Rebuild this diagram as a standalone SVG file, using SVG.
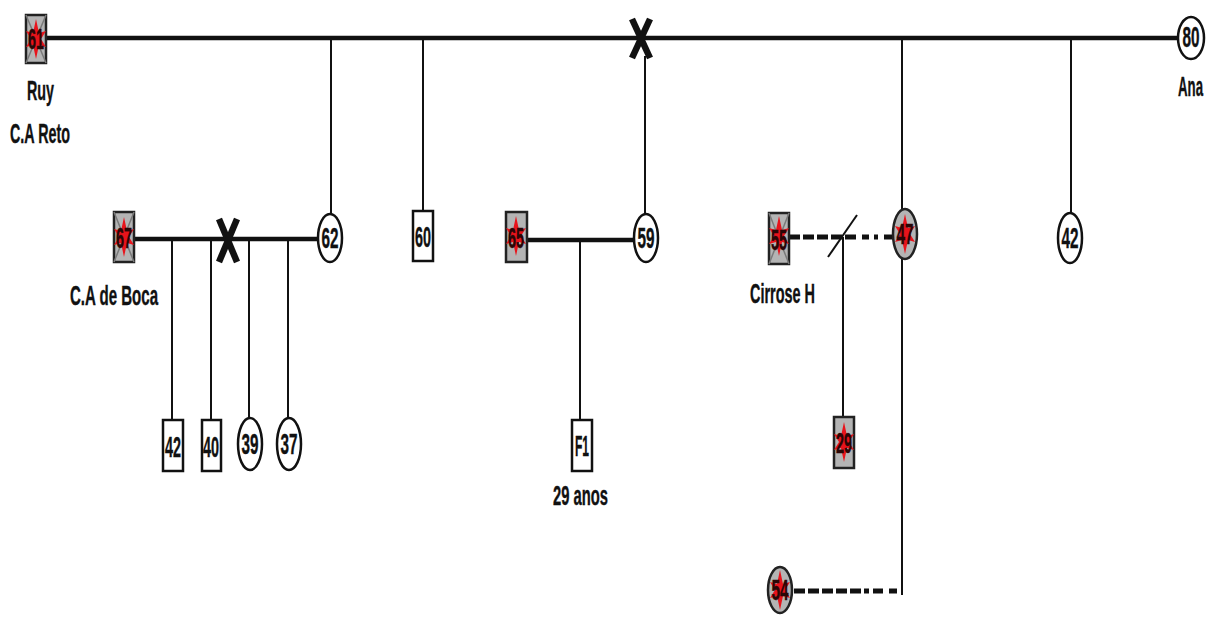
<svg xmlns="http://www.w3.org/2000/svg" width="1212" height="623" viewBox="0 0 1212 623">
<style>
.bg{fill:#fff}
.m{stroke:#111;stroke-width:4.5;fill:none}
.v{stroke:#111;stroke-width:2;fill:none}
.x{stroke:#111;stroke-width:6.5;fill:none;stroke-linecap:butt}
.d{stroke:#111;stroke-width:5;fill:none}
.n{fill:#fff;stroke:#111;stroke-width:2.5}
.a{fill:#b4b4b4;stroke:#222;stroke-width:2.5}
.st{fill:#e8131b}
.g{stroke:#7a7a7a;stroke-width:1.5}
.t{font-family:"Liberation Sans Narrow","Arial Narrow","Liberation Sans",Arial,sans-serif;font-weight:bold;font-size:29px;fill:#111;stroke:#111;stroke-width:0.4;text-anchor:middle}
.ta{fill:#2a0606;stroke:#2a0606}
.l{font-family:"Liberation Sans Narrow","Arial Narrow","Liberation Sans",Arial,sans-serif;font-weight:bold;font-size:28px;fill:#111;stroke:#111;stroke-width:0.4}
</style>
<defs>
<path id="star" d="M0,-20 L3,-6 L10,-8 L5,0 L10,8 L3,6 L0,20 L-3,6 L-10,8 L-5,0 L-10,-8 L-3,-6 Z"/>
</defs>
<rect class="bg" width="1212" height="623"/>
<g id="connectors">
<line class="m" x1="46" y1="38" x2="1179" y2="38"/>
<line class="v" x1="331" y1="38" x2="331" y2="214"/>
<line class="v" x1="423" y1="38" x2="423" y2="211"/>
<line class="v" x1="645" y1="56" x2="645" y2="213"/>
<line class="v" x1="902" y1="38" x2="902" y2="595"/>
<line class="v" x1="1071" y1="38" x2="1071" y2="213"/>
<line class="x" x1="632" y1="19" x2="650" y2="58"/>
<line class="x" x1="650" y1="19" x2="632" y2="58"/>
<line class="m" x1="134" y1="239" x2="319" y2="239"/>
<line class="x" x1="219" y1="219" x2="237" y2="262"/>
<line class="x" x1="237" y1="219" x2="219" y2="262"/>
<line class="v" x1="172" y1="239" x2="172" y2="420"/>
<line class="v" x1="211" y1="239" x2="211" y2="420"/>
<line class="v" x1="249" y1="239" x2="249" y2="419"/>
<line class="v" x1="288" y1="239" x2="288" y2="419"/>
<line class="m" x1="527" y1="240" x2="635" y2="240"/>
<line class="v" x1="580" y1="240" x2="580" y2="420"/>
<line class="d" x1="789" y1="237" x2="858" y2="237" stroke-dasharray="11 3"/>
<line class="d" x1="862" y1="237" x2="878" y2="237" stroke-dasharray="7 5"/>
<line class="d" x1="884" y1="237" x2="892" y2="237"/>
<line class="v" x1="828" y1="257" x2="857" y2="215"/>
<line class="v" x1="843" y1="237" x2="843" y2="416"/>
<line class="d" x1="794" y1="591" x2="869" y2="591" stroke-dasharray="11 3"/>
<line class="d" x1="873" y1="591" x2="883" y2="591"/>
<line class="d" x1="889" y1="591" x2="897" y2="591"/>
</g>
<g id="n61">
<rect class="a" x="26" y="15" width="20" height="48"/>
<line class="g" x1="26" y1="15" x2="46" y2="63"/><line class="g" x1="46" y1="15" x2="26" y2="63"/>
<use href="#star" class="st" x="36" y="39"/>
<text class="t ta" x="36" y="49" textLength="16" lengthAdjust="spacingAndGlyphs">61</text>
<text class="l" x="27" y="100" textLength="27" lengthAdjust="spacingAndGlyphs">Ruy</text>
<text class="l" x="10" y="143" textLength="60" lengthAdjust="spacingAndGlyphs">C.A Reto</text>
</g>
<g id="n80">
<ellipse class="n" cx="1191" cy="38" rx="13" ry="21"/>
<text class="t" x="1191" y="47" font-size="26" textLength="17" lengthAdjust="spacingAndGlyphs">80</text>
<text class="l" x="1203" y="96" text-anchor="end" textLength="25" lengthAdjust="spacingAndGlyphs">Ana</text>
</g>
<g id="n67">
<rect class="a" x="114" y="212" width="20" height="50"/>
<line class="g" x1="114" y1="212" x2="134" y2="262"/><line class="g" x1="134" y1="212" x2="114" y2="262"/>
<use href="#star" class="st" x="124" y="237"/>
<text class="t ta" x="124" y="248" textLength="16" lengthAdjust="spacingAndGlyphs">67</text>
<text class="l" x="70" y="305" textLength="88" lengthAdjust="spacingAndGlyphs">C.A de Boca</text>
</g>
<g id="n62">
<ellipse class="n" cx="330" cy="238" rx="12" ry="24"/>
<text class="t" x="330" y="248" textLength="17" lengthAdjust="spacingAndGlyphs">62</text>
</g>
<g id="n60">
<rect class="n" x="413" y="211" width="20" height="50"/>
<text class="t" x="423" y="247" textLength="16" lengthAdjust="spacingAndGlyphs">60</text>
</g>
<g id="n65">
<rect class="a" x="506" y="212" width="21" height="50"/>
<use href="#star" class="st" x="516" y="236"/>
<text class="t ta" x="516" y="248" textLength="16" lengthAdjust="spacingAndGlyphs">65</text>
</g>
<g id="n59">
<ellipse class="n" cx="646" cy="238" rx="12" ry="24"/>
<text class="t" x="646" y="248" textLength="17" lengthAdjust="spacingAndGlyphs">59</text>
</g>
<g id="n55">
<rect class="a" x="769" y="213" width="20" height="51"/>
<line class="g" x1="769" y1="213" x2="789" y2="264"/><line class="g" x1="789" y1="213" x2="769" y2="264"/>
<use href="#star" class="st" x="779" y="236"/>
<text class="t ta" x="779" y="250" textLength="16" lengthAdjust="spacingAndGlyphs">55</text>
<text class="l" x="750" y="303" textLength="65" lengthAdjust="spacingAndGlyphs">Cirrose H</text>
</g>
<g id="n47">
<ellipse class="a" cx="905" cy="234" rx="12" ry="25"/>
<use href="#star" class="st" x="905" y="234"/>
<text class="t ta" x="905" y="244" textLength="17" lengthAdjust="spacingAndGlyphs">47</text>
</g>
<g id="n42r">
<ellipse class="n" cx="1070" cy="238" rx="12" ry="25"/>
<text class="t" x="1070" y="248" textLength="17" lengthAdjust="spacingAndGlyphs">42</text>
</g>
<g id="n42">
<rect class="n" x="163" y="420" width="20" height="51"/>
<text class="t" x="173" y="457" textLength="16" lengthAdjust="spacingAndGlyphs">42</text>
</g>
<g id="n40">
<rect class="n" x="202" y="420" width="19" height="51"/>
<text class="t" x="211" y="457" textLength="16" lengthAdjust="spacingAndGlyphs">40</text>
</g>
<g id="n39">
<ellipse class="n" cx="250" cy="444" rx="12" ry="26"/>
<text class="t" x="250" y="454" textLength="17" lengthAdjust="spacingAndGlyphs">39</text>
</g>
<g id="n37">
<ellipse class="n" cx="289" cy="444" rx="12" ry="26"/>
<text class="t" x="289" y="454" textLength="17" lengthAdjust="spacingAndGlyphs">37</text>
</g>
<g id="nF1">
<rect class="n" x="572" y="420" width="20" height="51"/>
<text class="t" x="582" y="456" textLength="14" lengthAdjust="spacingAndGlyphs">F1</text>
<text class="l" x="553" y="505" textLength="55" lengthAdjust="spacingAndGlyphs">29 anos</text>
</g>
<g id="n29">
<rect class="a" x="834" y="417" width="20" height="51"/>
<use href="#star" class="st" x="844" y="442"/>
<text class="t ta" x="844" y="453" textLength="16" lengthAdjust="spacingAndGlyphs">29</text>
</g>
<g id="n54">
<ellipse class="a" cx="780" cy="590" rx="12" ry="23"/>
<use href="#star" class="st" x="780" y="590"/>
<text class="t ta" x="780" y="600" textLength="17" lengthAdjust="spacingAndGlyphs">54</text>
</g>
</svg>
